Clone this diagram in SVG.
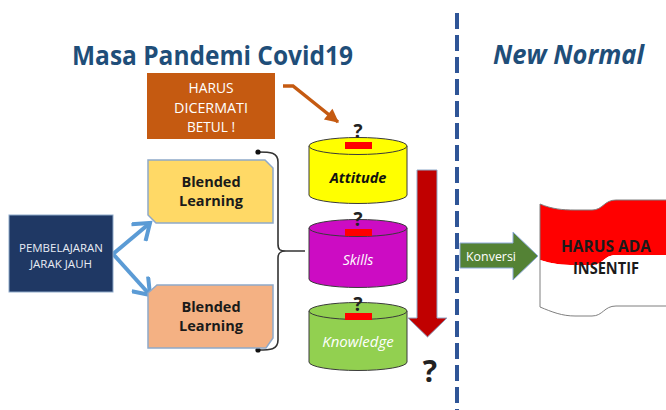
<svg xmlns="http://www.w3.org/2000/svg" width="666" height="410" viewBox="0 0 666 410">
  <defs>
    <style>
      .title { font-family: "Open Sans", "Liberation Sans", sans-serif; font-weight: bold; fill: #1F4E79; }
      .lbl { font-family: "Open Sans", "Liberation Sans", sans-serif; text-anchor: middle; }
      .bl { font-size: 14.5px; font-weight: bold; fill: #1a1a1a; }
      .q { font-family: "Open Sans", "Liberation Sans", sans-serif; font-weight: bold; fill: #222; text-anchor: middle; }
      .cyl { stroke: #3a3a3a; stroke-width: 1; }
      .bar { fill: #FF0000; }
      .blend { stroke: #8EA9C9; stroke-width: 1.5; }
    </style>
    <marker id="chev" markerUnits="userSpaceOnUse" markerWidth="24" markerHeight="24" viewBox="-18 -12 22 24" refX="0" refY="0" orient="auto">
      <path d="M-15,-11 L0,0 L-15,11" fill="none" stroke="#5B9BD5" stroke-width="4" stroke-linejoin="miter"/>
    </marker>
    <marker id="tri" markerUnits="userSpaceOnUse" markerWidth="16" markerHeight="16" viewBox="-12 -7 14 14" refX="0" refY="0" orient="auto">
      <path d="M-11,-6 L1,0 L-11,6 Z" fill="#C55A11"/>
    </marker>
  </defs>

  <rect width="666" height="410" fill="#FFFFFF"/>

  <!-- headings -->
  <text class="title" x="72" y="65" font-size="27" textLength="281" lengthAdjust="spacingAndGlyphs">Masa Pandemi Covid19</text>
  <text class="title" x="493" y="64" font-size="27" font-style="italic" textLength="151" lengthAdjust="spacingAndGlyphs">New Normal</text>

  <!-- divider -->
  <line x1="457" y1="13" x2="457" y2="410" stroke="#2F5597" stroke-width="4" stroke-dasharray="16,6"/>

  <g id="connectors">
    <path d="M113,254 L150,223" fill="none" stroke="#5B9BD5" stroke-width="4" marker-end="url(#chev)"/>
    <path d="M113,254 L150,295" fill="none" stroke="#5B9BD5" stroke-width="4" marker-end="url(#chev)"/>
    <path d="M283,86 L293,86 L338,122" fill="none" stroke="#C55A11" stroke-width="3.5" marker-end="url(#tri)"/>
    <!-- brace grouping both learning boxes -->
    <path d="M258,152 C270,152 278,152 278,162 L278,244 C278,250 280,251 286,251 L305,251 M286,251 C280,251 278,253 278,258 L278,340 C278,350 270,350 258,350" fill="none" stroke="#333" stroke-width="1.6"/>
    <circle cx="258" cy="152" r="2.6" fill="#111"/>
    <circle cx="258" cy="350" r="2.6" fill="#111"/>
  </g>

  <g id="pjj">
    <rect x="9" y="215" width="104" height="77" fill="#1F3864" stroke="#8EA9C9" stroke-width="1"/>
    <text class="lbl" x="61" y="252" font-size="11.5" fill="#E8ECF4" textLength="84" lengthAdjust="spacingAndGlyphs">PEMBELAJARAN</text>
    <text class="lbl" x="61" y="268" font-size="11.5" fill="#E8ECF4" textLength="62" lengthAdjust="spacingAndGlyphs">JARAK JAUH</text>
  </g>

  <g id="blended-1">
    <path class="blend" d="M148,160 L265,160 L273,168 L273,223 L156,223 L148,215 Z" fill="#FFD966"/>
    <text class="lbl bl" x="211" y="187">Blended</text>
    <text class="lbl bl" x="211" y="206">Learning</text>
  </g>

  <g id="blended-2">
    <path class="blend" d="M157,285 L273,285 L273,338 L266,348 L148,348 L148,293 Z" fill="#F4B183"/>
    <text class="lbl bl" x="211" y="312">Blended</text>
    <text class="lbl bl" x="211" y="331">Learning</text>
  </g>

  <g id="note">
    <rect x="147" y="73" width="128" height="66" fill="#C55A11"/>
    <text class="lbl" x="211" y="93" font-size="14.5" fill="#FFFFFF" textLength="45" lengthAdjust="spacingAndGlyphs">HARUS</text>
    <text class="lbl" x="211" y="113" font-size="14.5" fill="#FFFFFF" textLength="74" lengthAdjust="spacingAndGlyphs">DICERMATI</text>
    <text class="lbl" x="211" y="132" font-size="14.5" fill="#FFFFFF" textLength="48" lengthAdjust="spacingAndGlyphs">BETUL !</text>
  </g>

  <g id="attitude">
    <path class="cyl" d="M309,146 L309,195 A49,8.5 0 0 0 407,195 L407,146 Z" fill="#FFFF00"/>
    <ellipse class="cyl" cx="358" cy="146" rx="49" ry="8.5" fill="#FFFF00"/>
    <rect class="bar" x="345" y="142" width="27" height="7"/>
    <text class="q" x="358" y="138" font-size="19">?</text>
    <text class="lbl" x="358" y="183" font-size="14.5" font-weight="bold" font-style="italic" fill="#111">Attitude</text>
  </g>

  <g id="skills">
    <path class="cyl" d="M309,228 L309,279 A49,8.5 0 0 0 407,279 L407,228 Z" fill="#CC0CC3"/>
    <ellipse class="cyl" cx="358" cy="228" rx="49" ry="8.5" fill="#CC0CC3"/>
    <rect class="bar" x="345" y="229" width="27" height="7"/>
    <text class="q" x="358" y="226" font-size="19">?</text>
    <text class="lbl" x="358" y="265" font-size="14" font-style="italic" fill="#FFFFFF">Skills</text>
  </g>

  <g id="knowledge">
    <path class="cyl" d="M309,311 L309,362 A49,8.5 0 0 0 407,362 L407,311 Z" fill="#92D050"/>
    <ellipse class="cyl" cx="358" cy="311" rx="49" ry="8.5" fill="#92D050"/>
    <rect class="bar" x="345" y="313" width="27" height="7"/>
    <text class="q" x="358" y="311" font-size="19">?</text>
    <text class="lbl" x="358" y="347" font-size="15" font-style="italic" fill="#FFFFFF">Knowledge</text>
  </g>

  <g id="down-arrow">
    <path d="M417,170 L437,170 L437,318 L447,318 L427.5,337 L408,318 L417,318 Z" fill="#C00000" stroke="#8FA9C8" stroke-width="1"/>
    <text class="q" x="430" y="382" font-size="30" fill="#111">?</text>
  </g>

  <g id="konversi">
    <path d="M460,243 L513,243 L513,232 L538,256 L513,280 L513,268 L460,268 Z" fill="#548235" stroke="#8FAADC" stroke-width="1"/>
    <text class="lbl" x="491" y="261" font-size="13" fill="#FFFFFF" textLength="50" lengthAdjust="spacingAndGlyphs">Konversi</text>
  </g>

  <g id="insentif">
    <path d="M540,204 C552,209 562,210 575,210 L592,210 C603,210 604,200 616,200 L670,200 L670,255 L616,255 C604,255 603,265 592,265 L575,265 C562,265 552,264 540,260 Z" fill="#FF0000"/>
    <path d="M540,260 C552,264 562,265 575,265 L592,265 C603,265 604,255 616,255 L670,255 L670,306 L616,306 C604,306 603,316 592,316 L575,316 C562,316 552,312 540,307 Z" fill="#FFFFFF"/>
    <path d="M670,200 L616,200 C604,200 603,210 592,210 L575,210 C562,210 552,209 540,204 L540,307 C552,312 562,316 575,316 L592,316 C603,316 604,306 616,306 L670,306" fill="none" stroke="#7F7F7F" stroke-width="1"/>
    <text class="lbl" x="606" y="252" font-size="15.5" font-weight="bold" fill="#1a1a1a" textLength="90" lengthAdjust="spacingAndGlyphs">HARUS ADA</text>
    <text class="lbl" x="606" y="274" font-size="15.5" font-weight="bold" fill="#1a1a1a" textLength="66" lengthAdjust="spacingAndGlyphs">INSENTIF</text>
  </g>
</svg>
